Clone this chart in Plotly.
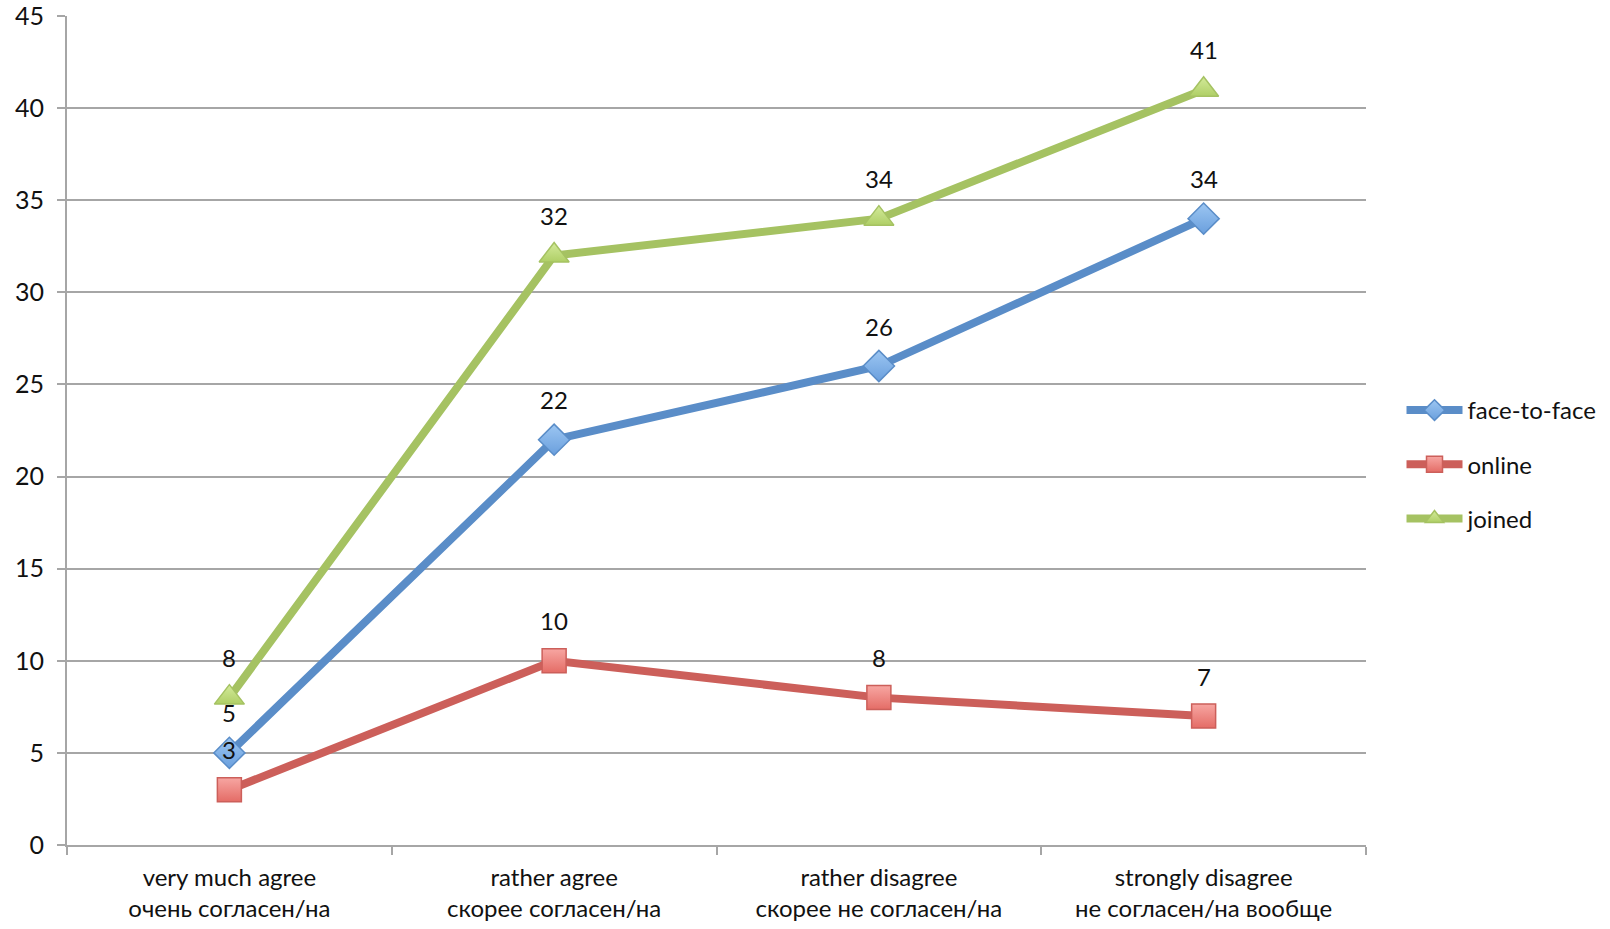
import plotly.graph_objects as go

categories = [
    "very much agree<br>очень согласен/на",
    "rather agree<br>скорее согласен/на",
    "rather disagree<br>скорее не согласен/на",
    "strongly disagree<br>не согласен/на вообще",
]
face_to_face = [5, 22, 26, 34]
online = [3, 10, 8, 7]
joined = [8, 32, 34, 41]
y_ticks = [0, 5, 10, 15, 20, 25, 30, 35, 40, 45]

FONT = "Lato, 'Open Sans', sans-serif"
GRID = "#A6A6A6"
TXT = "#111111"

# name, values, line colour, symbol, top fill, bottom fill, marker size
series = [
    ("face-to-face", face_to_face, "#5A8DC8", "diamond", "#9CC6F2", "#6A9FDD", 24),
    ("online", online, "#CC5F5A", "square", "#F7A6A2", "#E46C66", 24),
    ("joined", joined, "#A5C262", "triangle-up", "#D3EA9A", "#AFCF66", 26),
]

fig = go.Figure()
annotations = []
for name, vals, color, symbol, fill_top, fill_bot, msize in series:
    fig.add_trace(go.Scatter(
        x=categories, y=vals, name=name, mode="lines+markers",
        legendgroup=name,
        line=dict(color=color, width=8),
        marker=dict(symbol=symbol, size=msize, color=fill_top,
                    gradient=dict(type="vertical", color=fill_bot),
                    line=dict(color=color, width=1.5)),
    ))
    for c, v in zip(categories, vals):
        annotations.append(dict(
            x=c, y=v, text=str(v), showarrow=False, yshift=40,
            font=dict(family=FONT, size=24, color=TXT),
        ))

fig.update_layout(
    width=1610, height=929,
    margin=dict(l=67, r=244, t=16, b=84),
    paper_bgcolor="white", plot_bgcolor="white",
    font=dict(family=FONT, size=24, color=TXT),
    annotations=annotations,
    showlegend=True,
    legend=dict(
        xref="container", yref="container",
        x=0.8705, y=0.5, xanchor="left", yanchor="middle",
        font=dict(family=FONT, size=24, color=TXT),
        tracegroupgap=20, itemwidth=56,
        bgcolor="rgba(0,0,0,0)",
    ),
)
fig.update_xaxes(
    type="category", range=[-0.5, 3.5], automargin=False,
    showgrid=False, showline=True, linecolor=GRID, linewidth=2,
    ticks="outside", tickson="boundaries", ticklen=8, tickcolor=GRID, tickwidth=1.5,
    ticklabelstandoff=10,
    tickfont=dict(family=FONT, size=24, color=TXT),
)
fig.update_yaxes(
    range=[0, 45], tickvals=y_ticks, automargin=False,
    showgrid=True, gridcolor=GRID, gridwidth=1.5,
    showline=True, linecolor=GRID, linewidth=2,
    ticks="outside", ticklen=8, tickcolor=GRID, tickwidth=1.5,
    ticklabelstandoff=8, ticklabeloverflow="allow",
    zeroline=False,
    tickfont=dict(family=FONT, size=25, color=TXT),
)

fig.write_html("out.html")
